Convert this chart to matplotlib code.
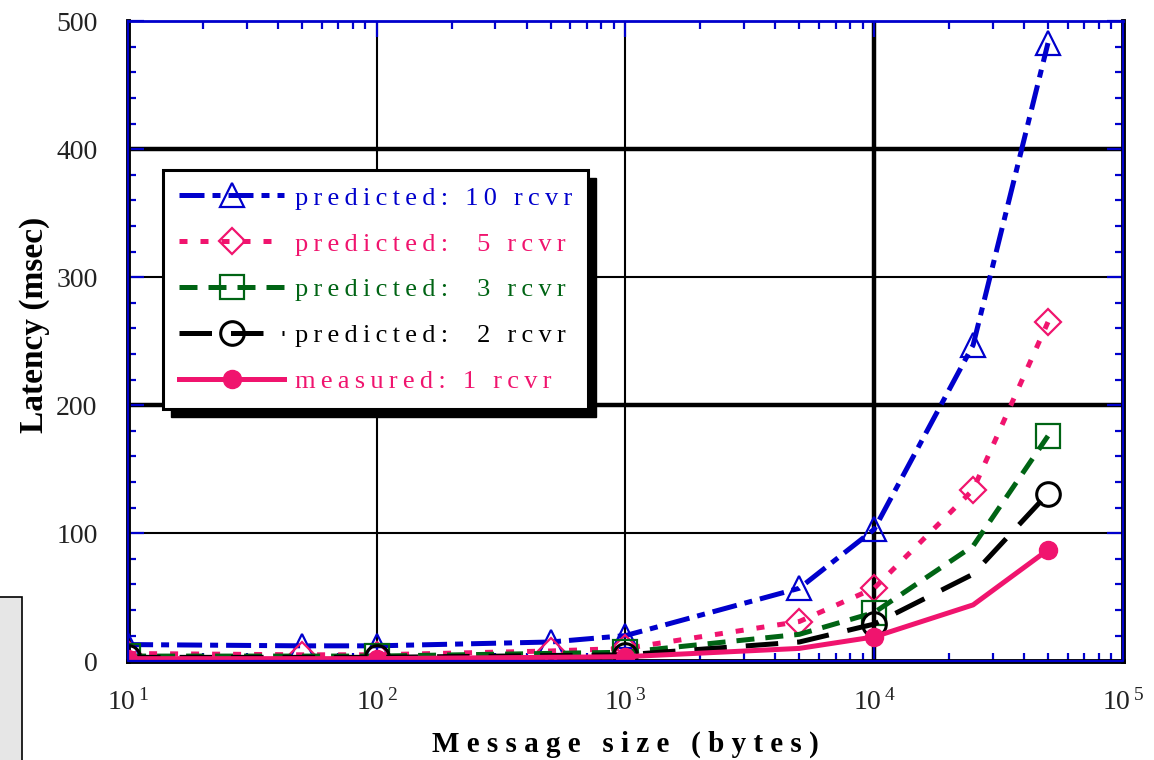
import matplotlib
matplotlib.use("Agg")
import matplotlib.pyplot as plt
from matplotlib.patches import Rectangle
from matplotlib.ticker import LogLocator, FixedLocator, NullFormatter

plt.rcParams['font.family'] = ['Liberation Serif', 'DejaVu Serif']
plt.rcParams['mathtext.fontset'] = 'custom'
plt.rcParams['mathtext.rm'] = 'Liberation Serif'

# values (latency in msec)
size_all = [10, 50, 100, 500, 1000, 5000, 10000, 25000, 50000]
lat_10rcvr = [13, 12, 12, 15, 20, 57, 103, 247, 483]
lat_5rcvr = [6, 5, 5, 8, 10, 31, 57, 134, 265]
size_few = [10, 100, 1000, 5000, 10000, 25000, 50000]
lat_3rcvr = [4, 4, 7, 21, 38, 90, 176]
lat_2rcvr = [3, 3, 5, 15, 29, 68, 131]
lat_1rcvr = [2, 2, 3.5, 10, 19, 44, 87]
marked_few = [0, 1, 2, 4, 6]

labels = ["predicted: 10 rcvr", "predicted:  5 rcvr", "predicted:  3 rcvr",
          "predicted:  2 rcvr", "measured: 1 rcvr"]

blue = '#0000CC'
pink = '#F0146E'
green = '#006414'
black = '#000000'


def spaced(s):
    # the original prints its legend letter-spaced
    return '\u2009'.join(s)


fig = plt.figure(figsize=(11.54, 7.6), dpi=100)
ax = fig.add_axes([0.111, 0.130, 0.862, 0.842])

# grid lines, some heavier like in the original
for xv, w in [(100, 1.5), (1000, 1.5), (10000, 3.2)]:
    ax.axvline(xv, color='k', lw=w, zorder=1)
for yv, w in [(100, 1.5), (200, 3.2), (300, 1.5), (400, 3.2)]:
    ax.axhline(yv, color='k', lw=w, zorder=1)

lw = 3.6
l1, = ax.plot(size_all, lat_10rcvr, color=blue, lw=lw, ls=(0, (5, 1.6, 1.6, 1.6)),
              marker='^', ms=17, mfc='none', mec=blue, mew=1.6, zorder=3)
l2, = ax.plot(size_all, lat_5rcvr, color=pink, lw=lw, ls=(0, (1.6, 2.6)),
              marker='D', ms=13, mfc='none', mec=pink, mew=1.6, zorder=3)
l3, = ax.plot(size_few, lat_3rcvr, color=green, lw=lw, ls=(0, (3.6, 2.2)),
              marker='s', ms=17, mfc='none', mec=green, mew=1.6,
              markevery=marked_few, zorder=3)
l4, = ax.plot(size_few, lat_2rcvr, color=black, lw=lw, ls=(0, (6.5, 3.8)),
              marker='o', ms=17, mfc='none', mec=black, mew=2.2,
              markevery=marked_few, zorder=3)
l5, = ax.plot(size_few, lat_1rcvr, color=pink, lw=lw, ls='-',
              marker='o', ms=13, mfc=pink, mec=pink,
              markevery=marked_few, zorder=4)

ax.set_xscale('log')
ax.set_xlim(10, 1e5)
ax.set_ylim(0, 500)

ax.xaxis.set_major_locator(FixedLocator([10, 100, 1000, 1e4, 1e5]))
ax.set_xticklabels([r'$\mathregular{10^{\,%d}}$' % k for k in range(1, 6)])
ax.xaxis.set_minor_locator(LogLocator(base=10, subs=range(2, 10)))
ax.xaxis.set_minor_formatter(NullFormatter())
ax.set_yticks([0, 100, 200, 300, 400, 500])
ax.set_yticks(range(0, 501, 20), minor=True)

ax.tick_params(which='both', direction='in', color=blue, width=1.6,
               top=True, right=True, labelsize=20, labelcolor='#222222')
ax.tick_params(which='major', length=11.5)
ax.tick_params(which='minor', length=5.5)
ax.tick_params(axis='y', pad=22)
ax.tick_params(axis='x', pad=20)

for side in ['left', 'bottom', 'right']:
    ax.spines[side].set_color('k')
    ax.spines[side].set_linewidth(3.5)
ax.spines['top'].set_color(blue)
ax.spines['top'].set_linewidth(2)
ax.plot([0, 0, 1, 1], [1, 0, 0, 1], transform=ax.transAxes, color=blue,
        lw=1.6, clip_on=False, zorder=6)

ax.set_xlabel("M e s s a g e   s i z e   ( b y t e s )", fontsize=21,
              fontweight='bold', labelpad=11)
fig.text(0.030, 0.572, "Latency (msec)", rotation=90, fontsize=24,
         fontweight='bold', ha='center', va='center')

leg = ax.legend([l1, l2, l3, l4, l5], [spaced(s) for s in labels], loc='upper left',
                bbox_to_anchor=(0.035, 0.767), borderaxespad=0,
                fontsize=19, handlelength=4.0, handletextpad=0.4,
                labelspacing=0.85, borderpad=0.6, numpoints=1,
                fancybox=False, framealpha=1, edgecolor='k')
leg.get_frame().set_linewidth(2.2)
leg.set_zorder(10)
for txt, ln in zip(leg.get_texts(), [l1, l2, l3, l4, l5]):
    txt.set_color(ln.get_color())

# black drop shadow behind the legend box
fig.canvas.draw()
bb = leg.get_window_extent()
shadow = Rectangle((bb.x0 + 8, bb.y0 - 8), bb.width, bb.height,
                   transform=None, facecolor='k', edgecolor='k', zorder=9)
ax.add_artist(shadow)
shadow.set_clip_on(False)

# grey box cut off at the lower left edge
fig.patches.append(Rectangle((-0.01, -0.01), 0.029, 0.224, transform=fig.transFigure,
                             facecolor='#e6e6e6', edgecolor='k', lw=1.2))

fig.savefig("out.png", dpi=100)
